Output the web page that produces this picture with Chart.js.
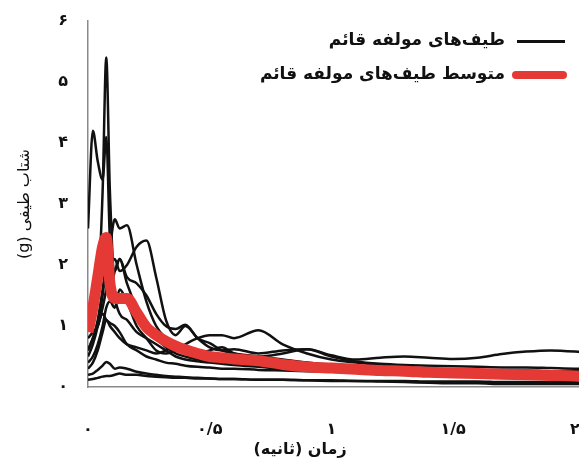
<!DOCTYPE html>
<html>
<head>
<meta charset="utf-8">
<script src="https://cdn.jsdelivr.net/npm/chart.js@4.4.1/dist/chart.umd.min.js"></script>
<style>
  html, body { margin: 0; padding: 0; background: #fff; overflow: hidden; width: 579px; height: 467px; }
  #wrap { position: relative; width: 579px; height: 467px; }
  canvas { position: absolute; left: 0; top: 0; }
  .lg-text { position: absolute; font-family: "DejaVu Sans", sans-serif; font-weight: bold; font-size: 17px; color: #111; direction: rtl; white-space: nowrap; }
  .lg-line { position: absolute; }
  #xTitle { position: absolute; left: 200px; width: 200px; top: 439px; text-align: center; font-family: "DejaVu Sans", sans-serif; font-weight: bold; font-size: 16px; color: #111; direction: rtl; }
</style>
</head>
<body>
<div id="wrap">
  <canvas id="myChart" width="600" height="467" dir="rtl"></canvas>
  <div class="lg-line" style="left:517px; top:40px; width:48px; height:3px; background:#111;"></div>
  <div class="lg-text" style="right:74px; top:29px;">طیف‌های مولفه قائم</div>
  <div class="lg-line" style="left:512px; top:71px; width:55px; height:8px; background:#e53935; border-radius:4px;"></div>
  <div class="lg-text" style="right:74px; top:63px;">متوسط طیف‌های مولفه قائم</div>
  <div id="xTitle">زمان (ثانیه)</div>
</div>
<script>
    // periods (s)
    const periods = [0,0.02,0.04,0.06,0.075,0.09,0.11,0.13,0.16,0.2,0.24,0.28,0.32,0.36,0.4,0.45,0.5,0.55,0.6,0.7,0.8,0.9,1.0,1.1,1.2,1.3,1.4,1.5,1.6,1.7,1.8,1.9,2.0,2.05];

    // vertical component spectra (g)
    const specA = [1.0,1.1,1.5,3.2,5.4,3.2,1.9,2.1,1.7,1.3,1.0,0.8,0.65,0.55,0.5,0.45,0.42,0.4,0.38,0.35,0.32,0.3,0.28,0.26,0.25,0.24,0.23,0.22,0.21,0.2,0.2,0.19,0.18,0.18];
    const specB = [2.6,4.2,3.7,3.4,4.1,2.4,1.5,1.2,1.1,0.9,0.8,0.7,0.6,0.5,0.45,0.42,0.4,0.38,0.36,0.33,0.3,0.28,0.26,0.24,0.22,0.2,0.19,0.18,0.17,0.16,0.15,0.15,0.14,0.14];
    const specC = [0.6,0.8,1.1,1.6,2.0,2.3,2.75,2.6,2.65,2.0,1.4,1.0,0.8,0.7,0.6,0.55,0.5,0.45,0.42,0.4,0.38,0.36,0.34,0.32,0.3,0.3,0.29,0.28,0.28,0.27,0.27,0.26,0.26,0.26];
    const specD = [0.8,0.9,1.0,1.3,1.6,1.9,2.1,1.9,2.0,2.3,2.4,1.8,1.1,0.85,1.0,0.8,0.65,0.6,0.62,0.55,0.6,0.62,0.5,0.42,0.38,0.36,0.35,0.34,0.33,0.32,0.32,0.31,0.3,0.3];
    const specE = [0.5,0.7,1.0,1.5,1.9,1.6,1.9,2.1,1.8,1.7,1.5,1.2,1.0,0.95,1.02,0.8,0.72,0.6,0.55,0.5,0.45,0.4,0.36,0.33,0.3,0.28,0.26,0.25,0.24,0.23,0.22,0.22,0.21,0.21];
    const specF = [0.4,0.5,0.7,1.0,1.3,1.4,1.3,1.6,1.4,1.0,0.8,0.6,0.55,0.6,0.7,0.8,0.85,0.85,0.8,0.93,0.7,0.55,0.45,0.4,0.36,0.33,0.3,0.28,0.27,0.26,0.25,0.25,0.24,0.24];
    const specG = [0.3,0.4,0.6,0.9,1.1,1.0,0.9,0.8,0.7,0.65,0.6,0.55,0.6,0.7,0.65,0.55,0.6,0.65,0.55,0.5,0.55,0.62,0.52,0.45,0.48,0.5,0.48,0.46,0.48,0.54,0.58,0.6,0.58,0.56];
    const specH = [0.2,0.22,0.28,0.35,0.41,0.38,0.3,0.32,0.3,0.25,0.22,0.2,0.18,0.17,0.16,0.15,0.14,0.13,0.13,0.12,0.12,0.11,0.11,0.1,0.1,0.1,0.09,0.09,0.09,0.08,0.08,0.08,0.08,0.08];
    const specI = [0.12,0.13,0.15,0.17,0.18,0.18,0.2,0.22,0.2,0.2,0.18,0.17,0.16,0.15,0.15,0.14,0.14,0.13,0.13,0.12,0.12,0.11,0.1,0.1,0.09,0.08,0.07,0.06,0.06,0.05,0.05,0.05,0.05,0.05];
    const specJ = [0.6,0.8,1.0,1.2,1.1,1.05,1.0,0.9,0.7,0.6,0.5,0.45,0.4,0.38,0.35,0.33,0.32,0.3,0.3,0.28,0.27,0.26,0.25,0.24,0.22,0.2,0.19,0.18,0.17,0.16,0.15,0.14,0.14,0.13];

    // mean spectrum (g)
    const meanSpec = [0.9,1.3,1.8,2.3,2.45,1.7,1.45,1.45,1.45,1.22,0.98,0.85,0.75,0.67,0.61,0.55,0.5,0.48,0.46,0.43,0.37,0.33,0.31,0.29,0.27,0.26,0.24,0.23,0.22,0.21,0.2,0.19,0.18,0.17];

    const xTicks = [0, 0.5, 1, 1.5, 2];
    const yTicks = [0, 1, 2, 3, 4, 5, 6];

    const faDigits = "۰۱۲۳۴۵۶۷۸۹";
    function toFa(v) {
      return String(v).replace(/\d/g, d => faDigits[d]).replace(".", "/");
    }

    function pts(vals) {
      return periods.map((p, i) => ({ x: p, y: vals[i] }));
    }

    const blackSeries = [specA, specB, specC, specD, specE, specF, specG, specH, specI, specJ];

    const datasets = [{
      label: "متوسط طیف‌های مولفه قائم",
      data: pts(meanSpec),
      borderColor: "#e53935",
      borderWidth: 11,
      pointRadius: 0,
      cubicInterpolationMode: "monotone",
      borderJoinStyle: "round"
    }];
    blackSeries.forEach(s => {
      datasets.push({
        label: "طیف‌های مولفه قائم",
        data: pts(s),
        borderColor: "#111",
        borderWidth: 2.5,
        pointRadius: 0,
        cubicInterpolationMode: "monotone"
      });
    });

    const font = { family: "DejaVu Sans", weight: "bold", size: 16 };

    const ctx = document.getElementById("myChart").getContext("2d");
    const chart = new Chart(ctx, {
      type: "line",
      data: { datasets: datasets },
      options: {
        responsive: false,
        animation: false,
        layout: { padding: { left: 0, top: 21, right: 13, bottom: 0 } },
        plugins: { legend: { display: false }, tooltip: { enabled: false } },
        scales: {
          x: {
            type: "linear",
            min: 0,
            max: 2.05,
            grid: { display: false },
            border: { display: true, color: "#8a8a8a", width: 1.5 },
            afterBuildTicks: s => { s.ticks = xTicks.map(v => ({ value: v })); },
            afterFit: s => { s.height = 80; s.paddingLeft = 0; s.paddingRight = 0; },
            ticks: { color: "#111", font: font, padding: 25, maxRotation: 0, callback: v => toFa(v) }
          },
          y: {
            min: 0,
            max: 6,
            grid: { display: false },
            border: { display: true, color: "#8a8a8a", width: 1.5 },
            afterBuildTicks: s => { s.ticks = yTicks.map(v => ({ value: v })); },
            afterFit: s => { s.width = 88; s.paddingTop = 0; s.paddingBottom = 0; },
            ticks: { color: "#111", font: font, padding: 12, callback: v => toFa(v) },
            title: { display: true, text: "شتاب طیفی (g)", color: "#111", font: { family: "DejaVu Sans", size: 16 }, padding: { top: 15, bottom: 0 } }
          }
        }
      }
    });
</script>
</body>
</html>
